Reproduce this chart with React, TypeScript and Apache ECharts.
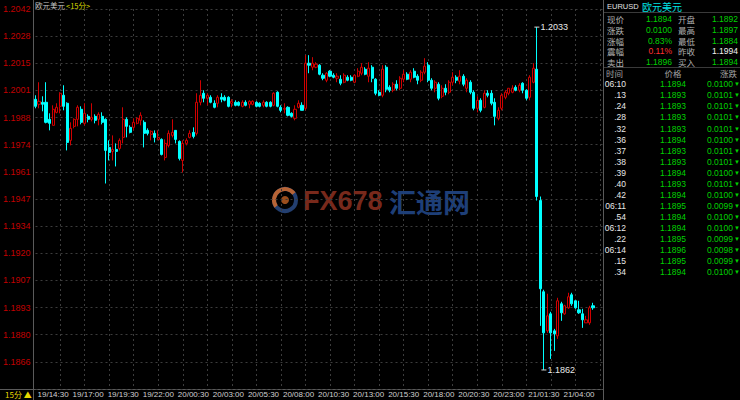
import React, { useEffect, useRef } from 'react';
import * as echarts from 'echarts';

// ---------- time axis ----------
const startDay = 19;
const startMinuteOfDay = 14 * 60 + 30;
const slotCount = 163; // 160 candles + empty room at right
const categories: string[] = [];
for (let i = 0; i < slotCount; i++) {
  const t = startMinuteOfDay + i * 15;
  const d = startDay + Math.floor(t / 1440);
  const m = t % 1440;
  categories.push(`${d}/${String(Math.floor(m / 60)).padStart(2, '0')}:${String(m % 60).padStart(2, '0')}`);
}
const xTickLabels = [
  '19/14:30', '19/17:00', '19/19:30', '19/22:00', '20/00:30', '20/03:00', '20/05:30', '20/08:00',
  '20/10:30', '20/13:00', '20/15:30', '20/18:00', '20/20:30', '20/23:00', '21/01:30', '21/04:00',
];
const yTickLabels = ['1.1866', '1.1880', '1.1893', '1.1907', '1.1920', '1.1934', '1.1947', '1.1961', '1.1974', '1.1988', '1.2001', '1.2015', '1.2028', '1.2042'];
const yBottom = 1.18525;
const yStep = 0.0013538;

// [open, close, low, high]
const candles15m: number[][] = [
  [1.19970, 1.19935, 1.19925, 1.19990], [1.19945, 1.19960, 1.19925, 1.20055], [1.19955, 1.19945, 1.19910, 1.19985],
  [1.19955, 1.19855, 1.19850, 1.20055], [1.19870, 1.19850, 1.19815, 1.19900], [1.19840, 1.19920, 1.19840, 1.19940],
  [1.19905, 1.19930, 1.19900, 1.19950], [1.19935, 1.20000, 1.19900, 1.20005], [1.19990, 1.19935, 1.19915, 1.20040],
  [1.19950, 1.19755, 1.19715, 1.19955], [1.19765, 1.19825, 1.19740, 1.19855], [1.19835, 1.19870, 1.19825, 1.19875],
  [1.19870, 1.19930, 1.19835, 1.19940], [1.19920, 1.19855, 1.19845, 1.19935], [1.19850, 1.19900, 1.19840, 1.19950],
  [1.19885, 1.19870, 1.19855, 1.19895], [1.19870, 1.19880, 1.19860, 1.19950], [1.19885, 1.19865, 1.19850, 1.19895],
  [1.19870, 1.19895, 1.19840, 1.19905], [1.19885, 1.19855, 1.19845, 1.19905], [1.19870, 1.19715, 1.19550, 1.19875],
  [1.19730, 1.19705, 1.19665, 1.19765], [1.19710, 1.19720, 1.19665, 1.19790], [1.19720, 1.19710, 1.19635, 1.19750],
  [1.19725, 1.19765, 1.19715, 1.19775], [1.19780, 1.19870, 1.19750, 1.19930], [1.19870, 1.19835, 1.19780, 1.19880],
  [1.19830, 1.19805, 1.19800, 1.19840], [1.19830, 1.19855, 1.19815, 1.19875], [1.19850, 1.19875, 1.19845, 1.19880],
  [1.19865, 1.19890, 1.19840, 1.19905], [1.19855, 1.19800, 1.19730, 1.19865], [1.19815, 1.19800, 1.19790, 1.19825],
  [1.19795, 1.19810, 1.19765, 1.19815], [1.19800, 1.19780, 1.19755, 1.19815], [1.19770, 1.19780, 1.19765, 1.19815],
  [1.19770, 1.19695, 1.19690, 1.19775], [1.19680, 1.19750, 1.19665, 1.19770], [1.19740, 1.19800, 1.19730, 1.19815],
  [1.19790, 1.19805, 1.19780, 1.19870], [1.19815, 1.19770, 1.19750, 1.19815], [1.19760, 1.19675, 1.19665, 1.19765],
  [1.19665, 1.19750, 1.19605, 1.19765], [1.19750, 1.19765, 1.19740, 1.19775], [1.19780, 1.19800, 1.19775, 1.19815],
  [1.19805, 1.19785, 1.19775, 1.19830], [1.19800, 1.19955, 1.19790, 1.20000], [1.19955, 1.19990, 1.19940, 1.20065],
  [1.20000, 1.19975, 1.19955, 1.20015], [1.19975, 1.19990, 1.19940, 1.20000], [1.19980, 1.19955, 1.19950, 1.19990],
  [1.19950, 1.19930, 1.19925, 1.19965], [1.19950, 1.19980, 1.19930, 1.19990], [1.19980, 1.19970, 1.19955, 1.20000],
  [1.19980, 1.19965, 1.19960, 1.19990], [1.19980, 1.19935, 1.19930, 1.19985], [1.19950, 1.19960, 1.19930, 1.19970],
  [1.19955, 1.19940, 1.19935, 1.19965], [1.19955, 1.19940, 1.19935, 1.19960], [1.19935, 1.19955, 1.19930, 1.19965],
  [1.19955, 1.19940, 1.19935, 1.19965], [1.19945, 1.19960, 1.19925, 1.19965], [1.19945, 1.19960, 1.19940, 1.19965],
  [1.19955, 1.19935, 1.19930, 1.19960], [1.19950, 1.19935, 1.19930, 1.19955], [1.19940, 1.19955, 1.19930, 1.19965],
  [1.19955, 1.19935, 1.19930, 1.19960], [1.19955, 1.19935, 1.19930, 1.19960], [1.19940, 1.20000, 1.19935, 1.20005],
  [1.20005, 1.19935, 1.19930, 1.20010], [1.19930, 1.19915, 1.19905, 1.19940], [1.19920, 1.19925, 1.19900, 1.19950],
  [1.19930, 1.19890, 1.19885, 1.19935], [1.19900, 1.19885, 1.19880, 1.19905], [1.19875, 1.19920, 1.19865, 1.19940],
  [1.19930, 1.19950, 1.19925, 1.19965], [1.19940, 1.19915, 1.19915, 1.19955], [1.19925, 1.20150, 1.19915, 1.20190],
  [1.20150, 1.20140, 1.20100, 1.20190], [1.20130, 1.20150, 1.20115, 1.20180], [1.20130, 1.20145, 1.20125, 1.20155],
  [1.20140, 1.20095, 1.20090, 1.20145], [1.20090, 1.20075, 1.20065, 1.20100], [1.20065, 1.20100, 1.20055, 1.20105],
  [1.20110, 1.20085, 1.20080, 1.20115], [1.20090, 1.20080, 1.20075, 1.20100], [1.20075, 1.20085, 1.20055, 1.20100],
  [1.20070, 1.20050, 1.20040, 1.20090], [1.20055, 1.20090, 1.20050, 1.20100], [1.20080, 1.20065, 1.20060, 1.20090],
  [1.20080, 1.20065, 1.20060, 1.20090], [1.20055, 1.20090, 1.20050, 1.20095], [1.20085, 1.20110, 1.20080, 1.20125],
  [1.20100, 1.20130, 1.20090, 1.20150], [1.20120, 1.20095, 1.20090, 1.20130], [1.20085, 1.20125, 1.20055, 1.20155],
  [1.20130, 1.20075, 1.20055, 1.20140], [1.20070, 1.20000, 1.19990, 1.20075], [1.20005, 1.19990, 1.19985, 1.20015],
  [1.19990, 1.20120, 1.19980, 1.20140], [1.20130, 1.20020, 1.20005, 1.20140], [1.20030, 1.20015, 1.20005, 1.20040],
  [1.20015, 1.20045, 1.20005, 1.20055], [1.20045, 1.20025, 1.20015, 1.20065], [1.20025, 1.20075, 1.20015, 1.20085],
  [1.20070, 1.20095, 1.20055, 1.20115], [1.20095, 1.20070, 1.20065, 1.20105], [1.20070, 1.20105, 1.20055, 1.20115],
  [1.20110, 1.20080, 1.20075, 1.20125], [1.20085, 1.20065, 1.20045, 1.20095], [1.20065, 1.20105, 1.20055, 1.20115],
  [1.20105, 1.20135, 1.20095, 1.20175], [1.20140, 1.20065, 1.20055, 1.20155], [1.20065, 1.20025, 1.20015, 1.20075],
  [1.20025, 1.20055, 1.20005, 1.20065], [1.20045, 1.19975, 1.19965, 1.20055], [1.19985, 1.20025, 1.19975, 1.20040],
  [1.20025, 1.20005, 1.19990, 1.20045], [1.20005, 1.20055, 1.19995, 1.20065], [1.20055, 1.20080, 1.20040, 1.20105],
  [1.20080, 1.20065, 1.20050, 1.20090], [1.20060, 1.20085, 1.20045, 1.20115], [1.20085, 1.20045, 1.20035, 1.20095],
  [1.20025, 1.20065, 1.20005, 1.20075], [1.20055, 1.20005, 1.19995, 1.20065], [1.20005, 1.19925, 1.19915, 1.20015],
  [1.19925, 1.19965, 1.19905, 1.19985], [1.19965, 1.19915, 1.19905, 1.19975], [1.19930, 1.20000, 1.19925, 1.20015],
  [1.20000, 1.19990, 1.19980, 1.20015], [1.20000, 1.19950, 1.19940, 1.20015], [1.19955, 1.19885, 1.19840, 1.19975],
  [1.19875, 1.19915, 1.19865, 1.19930], [1.19925, 1.19990, 1.19915, 1.20000], [1.19980, 1.20005, 1.19970, 1.20015],
  [1.20000, 1.20025, 1.19990, 1.20025], [1.20005, 1.20025, 1.20000, 1.20040], [1.20030, 1.20015, 1.20010, 1.20040],
  [1.20015, 1.20040, 1.20005, 1.20050], [1.20050, 1.20015, 1.20000, 1.20055], [1.20015, 1.19975, 1.19965, 1.20020],
  [1.19980, 1.20080, 1.19965, 1.20090], [1.20055, 1.20125, 1.20050, 1.20150], [1.20120, 1.19485, 1.19465, 1.20330],
  [1.19465, 1.19025, 1.18840, 1.19485], [1.19010, 1.18805, 1.18620, 1.19020], [1.18815, 1.18890, 1.18805, 1.19000],
  [1.18900, 1.18805, 1.18675, 1.18910], [1.18815, 1.18800, 1.18715, 1.18825], [1.18790, 1.18965, 1.18775, 1.18980],
  [1.18950, 1.18905, 1.18865, 1.18960], [1.18900, 1.18940, 1.18895, 1.18945], [1.18930, 1.18985, 1.18925, 1.19005],
  [1.18995, 1.18950, 1.18940, 1.19005], [1.18965, 1.18930, 1.18925, 1.18965], [1.18920, 1.18905, 1.18900, 1.18965],
  [1.18900, 1.18870, 1.18830, 1.18925], [1.18855, 1.18870, 1.18855, 1.18890], [1.18855, 1.18930, 1.18845, 1.18940],
  [1.18940, 1.18930, 1.18920, 1.18955],
];

// ---------- right panel ----------
const symbolCode = 'EURUSD';
const symbolName = '欧元美元';
const quoteLeftLabels = ['现价', '涨跌', '涨幅', '震幅', '卖出'];
const quoteLeftValues = ['1.1894', '0.0100', '0.83%', '0.11%', '1.1896'];
const quoteRightLabels = ['开盘', '最高', '最低', '昨收', '买入'];
const quoteRightValues = ['1.1892', '1.1897', '1.1884', '1.1994', '1.1894'];
const tickHeader = ['时间', '价格', '涨跌'];
const tickTimes = ['06:10', '.13', '.24', '.28', '.32', '.36', '.37', '.38', '.39', '.40', '.42', '06:11', '.54', '06:12', '.22', '06:14', '.15', '.34'];
const tickPrices = ['1.1894', '1.1893', '1.1893', '1.1893', '1.1893', '1.1894', '1.1893', '1.1893', '1.1894', '1.1893', '1.1894', '1.1895', '1.1894', '1.1894', '1.1895', '1.1896', '1.1895', '1.1894'];
const tickChanges = ['0.0100', '0.0101', '0.0101', '0.0101', '0.0101', '0.0100', '0.0101', '0.0101', '0.0100', '0.0101', '0.0100', '0.0099', '0.0100', '0.0100', '0.0099', '0.0098', '0.0099', '0.0100'];

const FONT = '"Liberation Sans", Arial, sans-serif';
const CJK = '"Noto Sans CJK SC", sans-serif';
const GREEN = '#00d000';

function txt(text: string, x: number, y: number, fill: string, size = 9, align = 'left', family = FONT, extra: any = {}) {
  return {
    type: 'text', x, y, silent: true,
    style: { text, fill, fontSize: size, fontFamily: family, align, verticalAlign: 'middle', lineHeight: size + 0.5, ...extra },
  };
}

export default function App() {
  const ref = useRef<HTMLDivElement>(null);
  useEffect(() => {
    if (!ref.current) return;
    const chart = echarts.init(ref.current, null, { renderer: 'svg' });

    const graphics: any[] = [];
    // frame lines
    const lineColor = '#5a5a5a';
    graphics.push({ type: 'line', silent: true, shape: { x1: 33.5, y1: 0, x2: 33.5, y2: 400 }, style: { stroke: lineColor, lineWidth: 1 } });
    graphics.push({ type: 'line', silent: true, shape: { x1: 0, y1: 389.5, x2: 604, y2: 389.5 }, style: { stroke: lineColor, lineWidth: 1 } });
    graphics.push({ type: 'line', silent: true, shape: { x1: 603.5, y1: 0, x2: 603.5, y2: 400 }, style: { stroke: lineColor, lineWidth: 1 } });
    graphics.push({ type: 'line', silent: true, shape: { x1: 604, y1: 12.5, x2: 740, y2: 12.5 }, style: { stroke: '#3a3a3a', lineWidth: 1 } });
    graphics.push({ type: 'line', silent: true, shape: { x1: 604, y1: 67.5, x2: 740, y2: 67.5 }, style: { stroke: '#3a3a3a', lineWidth: 1 } });

    // title
    graphics.push(txt('欧元美元', 35, 5, '#c8c8c8', 7.5, 'left', CJK));
    graphics.push(txt('<15分>', 66, 5, '#d8d800', 7.5, 'left', CJK));
    graphics.push(txt('15分 ▲', 5, 394.5, '#e8d800', 8, 'left', CJK));

    // watermark
    graphics.push({ type: 'circle', silent: true, shape: { cx: 285, cy: 200, r: 11 }, style: { fill: 'none', stroke: 'rgba(50,90,160,0.7)', lineWidth: 4 } });
    graphics.push({ type: 'arc', silent: true, shape: { cx: 285, cy: 200, r: 11, startAngle: Math.PI * 0.8, endAngle: Math.PI * 1.8 }, style: { fill: 'none', stroke: 'rgba(220,110,40,0.8)', lineWidth: 4 } });
    graphics.push({ type: 'circle', silent: true, shape: { cx: 285, cy: 200, r: 4 }, style: { fill: 'rgba(220,110,40,0.7)' } });
    graphics.push(txt('FX678', 303, 201, 'rgba(175,60,40,0.7)', 27, 'left', FONT, { fontWeight: 'bold' }));
    graphics.push(txt('汇通网', 389, 201, 'rgba(40,85,160,0.75)', 27, 'left', CJK, { fontWeight: 'bold' }));

    // right panel header
    graphics.push(txt(symbolCode, 607, 6.5, '#e0e0e0', 7.5));
    graphics.push(txt(symbolName, 642, 6.5, '#00e0e0', 10, 'left', CJK));
    const rowY = [19, 30, 40.5, 51, 62];
    quoteLeftLabels.forEach((l, i) => {
      graphics.push(txt(l, 607, rowY[i], '#b0b0b0', 8.5, 'left', CJK));
      graphics.push(txt(quoteLeftValues[i], 672, rowY[i], l === '震幅' ? '#ff3030' : GREEN, 8.5, 'right'));
      graphics.push(txt(quoteRightLabels[i], 678, rowY[i], '#b0b0b0', 8.5, 'left', CJK));
      graphics.push(txt(quoteRightValues[i], 738, rowY[i], quoteRightLabels[i] === '昨收' ? '#f0f0f0' : GREEN, 8.5, 'right'));
    });
    graphics.push(txt(tickHeader[0], 606, 73, '#a0a0a0', 8.5, 'left', CJK));
    graphics.push(txt(tickHeader[1], 673, 73, '#a0a0a0', 8.5, 'center', CJK));
    graphics.push(txt(tickHeader[2], 737, 73, '#a0a0a0', 8.5, 'right', CJK));
    tickTimes.forEach((t, i) => {
      const y = 84.3 + i * 11.05;
      graphics.push(txt(t, 626, y, '#e8e8e8', 8.5, 'right'));
      graphics.push(txt(tickPrices[i], 673, y, GREEN, 8.5, 'center'));
      graphics.push(txt(tickChanges[i], 733, y, GREEN, 8.5, 'right'));
      graphics.push(txt('▼', 734, y, GREEN, 6, 'left'));
    });

    const option: any = {
      animation: false,
      backgroundColor: '#000000',
      grid: { left: 35, top: 9, width: 568.5, height: 380 },
      xAxis: {
        type: 'category',
        data: categories,
        boundaryGap: false,
        axisLine: { show: false },
        axisTick: { show: false },
        axisLabel: {
          interval: (_i: number, v: string) => xTickLabels.includes(v),
          align: 'left',
          color: '#d0d0d0',
          fontSize: 8,
          fontFamily: FONT,
          margin: 1.5,
          padding: [0, 0, 0, 2],
        },
        splitLine: {
          show: true,
          interval: (i: number) => i > 0 && i % 7 === 0,
          lineStyle: { color: '#3c3c3c', type: [2, 3], width: 1 },
        },
      },
      yAxis: {
        type: 'value',
        min: yBottom,
        max: yBottom + 14 * yStep,
        interval: yStep,
        scale: true,
        axisLine: { show: false },
        axisTick: { show: false },
        axisLabel: {
          color: '#c00000',
          fontSize: 9,
          fontFamily: FONT,
          margin: 5,
          showMinLabel: false,
          formatter: (v: number) => {
            let best = '';
            let bd = 0.0004;
            yTickLabels.forEach((l) => {
              const d = Math.abs(parseFloat(l) - v);
              if (d < bd) { bd = d; best = l; }
            });
            return best;
          },
        },
        splitLine: { show: true, lineStyle: { color: '#3c3c3c', type: [2, 3], width: 1 } },
      },
      series: [
        {
          type: 'candlestick',
          data: candles15m,
          barWidth: 2.6,
          itemStyle: {
            color: '#000000',
            color0: '#00ffff',
            borderColor: '#d00000',
            borderColor0: '#00ffff',
            borderWidth: 1,
          },
          markPoint: {
            symbol: 'rect',
            symbolSize: [5, 1],
            itemStyle: { color: '#d8d8d8' },
            label: {
              show: true,
              position: 'right',
              distance: 1,
              color: '#e8e8e8',
              fontSize: 9,
              fontFamily: FONT,
              formatter: (p: any) => Number(p.value).toFixed(4),
            },
            data: [
              { type: 'max', valueDim: 'highest' },
              { type: 'min', valueDim: 'lowest' },
            ],
          },
        },
      ],
      graphic: graphics,
    };
    chart.setOption(option);
    return () => chart.dispose();
  }, []);
  return <div ref={ref} style={{ position: 'fixed', left: 0, top: 0, width: 740, height: 400, background: '#000' }} />;
}
